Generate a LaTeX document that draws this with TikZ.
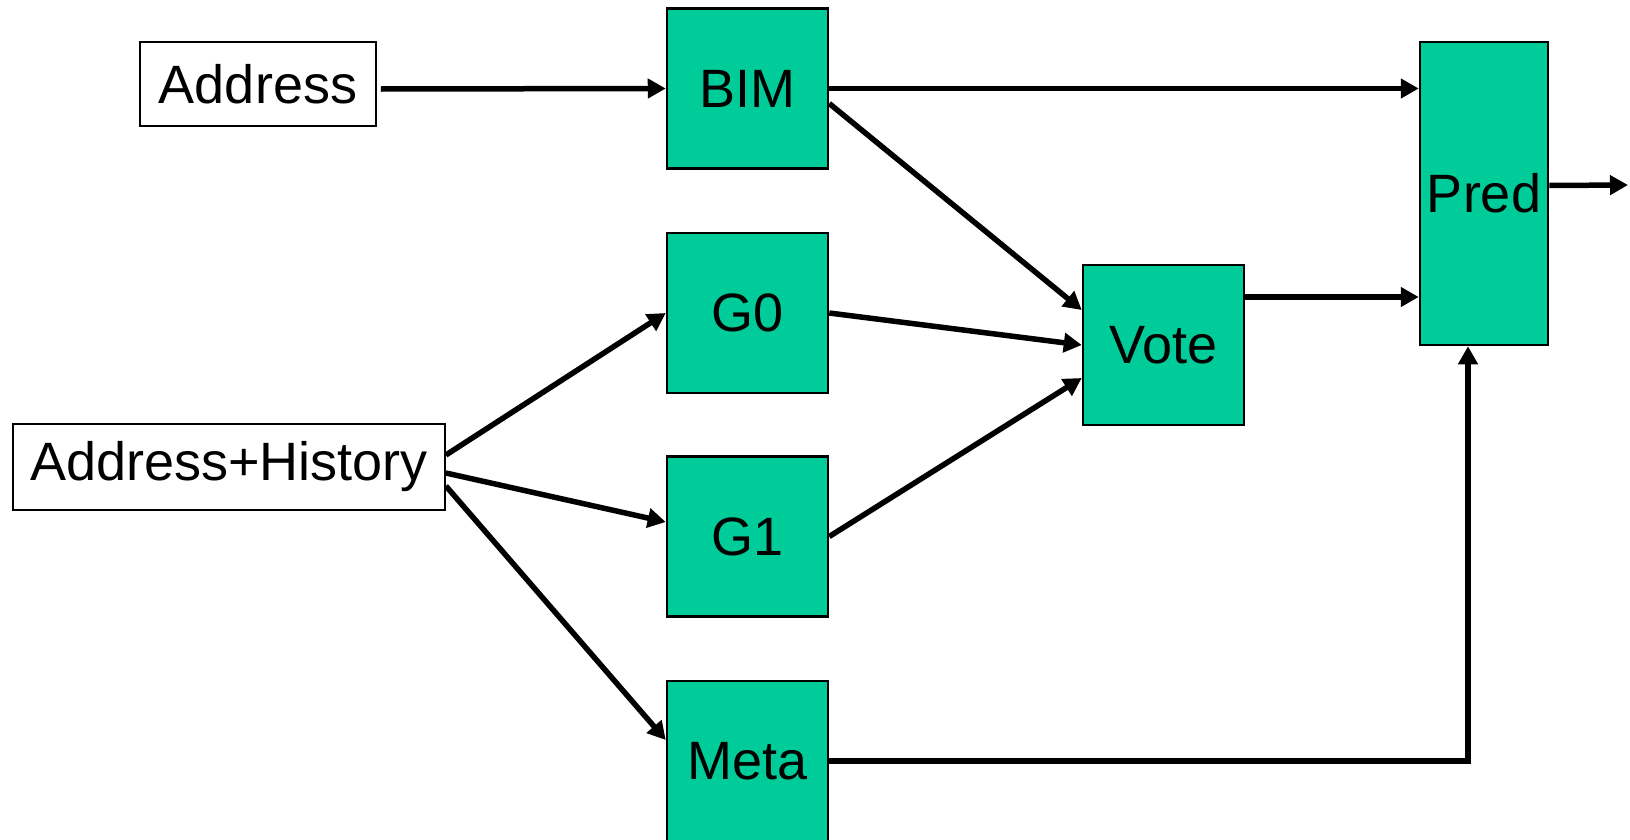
\documentclass[tikz,border=0pt]{standalone}
\usepackage{fontspec}
\setmainfont{Liberation Sans}
\usetikzlibrary{arrows.meta}
\definecolor{unit}{RGB}{0,204,153}
\tikzset{
  inbox/.style={draw=black, line width=1.8bp, fill=white, inner sep=0pt,
    font=\fontsize{54bp}{60bp}\selectfont},
  unitbox/.style={draw=black, line width=2.5bp, fill=unit, inner sep=0pt,
    minimum width=161bp, minimum height=160bp, font=\fontsize{54bp}{60bp}\selectfont},
  link/.style={line width=5.5bp, -{Triangle[length=18bp,width=19bp]}},
}
\begin{document}
\begin{tikzpicture}[x=1bp, y=-1bp]
\useasboundingbox (0,0) rectangle (1630,839);
\fill[white] (0,0) rectangle (1630,839);

% inputs
\node[inbox, minimum width=236bp, minimum height=84bp] (addr) at (258,84) {Address};
\node[inbox, minimum width=432bp, minimum height=86bp] (ah) at (229,467) {Address+History};

% tables
\node[unitbox] (bim)  at (747.5,88.5) {BIM};
\node[unitbox] (g0)   at (747.5,313)  {G0};
\node[unitbox] (g1)   at (747.5,536.5){G1};
\node[unitbox] (meta) at (747.5,761)  {Meta};
\node[unitbox] (vote) at (1163.5,345) {Vote};
\node[unitbox, minimum width=128bp, minimum height=303bp] (pred) at (1484,193.5) {Pred};
\coordinate (out) at (1628,185);

% connections
\draw[link] ([xshift=4bp,yshift=-5bp]addr.east) -- (bim.west);
\draw[link] (bim.east) -- (bim.east -| pred.west);
\draw[link] ([yshift=-15bp]bim.east) -- ([yshift=35bp]vote.west);
\draw[link] (g0.east) -- (vote.west);
\draw[link] (g1.east) -- ([yshift=-33bp]vote.west);
\draw[link] ([yshift=48bp]vote.east) -- ([yshift=48bp]vote.east -| pred.west);
\draw[link] (meta.east) -| ([xshift=-16bp]pred.south);
\draw[link] ([yshift=8bp]pred.east) -- (out);
\draw[link] ([yshift=12bp]ah.east) -- (g0.west);
\draw[link] ([yshift=-6bp]ah.east) -- ([yshift=14.5bp]g1.west);
\draw[link] ([yshift=-19bp]ah.east) -- ([yshift=21bp]meta.west);
\end{tikzpicture}
\end{document}
